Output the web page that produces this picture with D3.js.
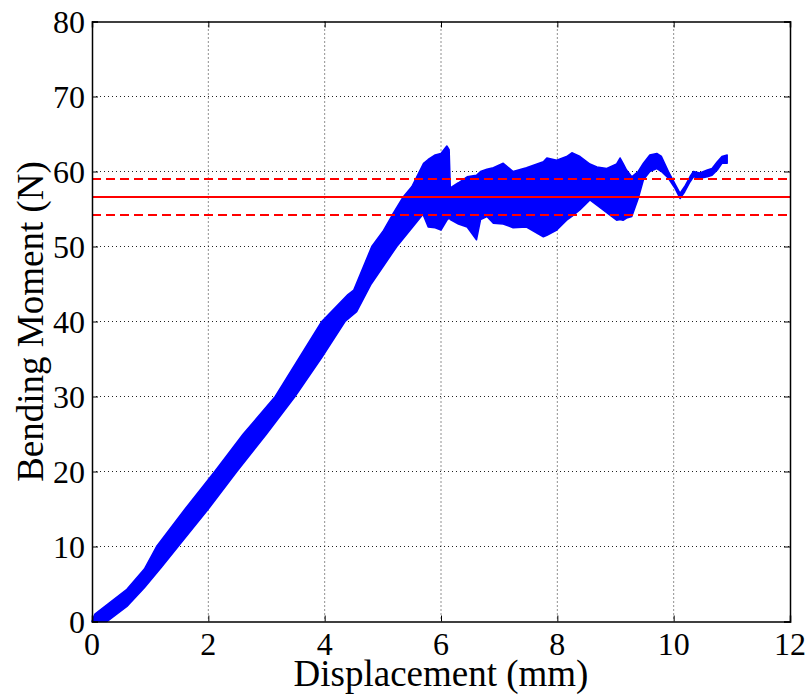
<!DOCTYPE html>
<html>
<head>
<meta charset="utf-8">
<script src="https://cdn.jsdelivr.net/npm/d3@7"></script>
<style>
  body { margin: 0; background: #fff; }
  svg { display: block; }
</style>
</head>
<body>
<div id="chart"></div>
<script>
// upper edge of the noisy measured band: displacement (mm) / moment (N)
const upperDisp = [0, 0.05, 0.3, 0.6, 0.9, 1.11, 1.6, 2.11, 2.6, 3.15, 3.55, 3.95, 4.4, 4.5, 4.81, 5.0, 5.17, 5.35, 5.5, 5.7, 5.78, 5.9, 6.0, 6.1, 6.14, 6.16, 6.3, 6.45, 6.61, 6.68, 6.79, 6.9, 7.07, 7.24, 7.47, 7.76, 7.82, 7.99, 8.16, 8.25, 8.39, 8.56, 8.68, 8.85, 9.02, 9.08, 9.13, 9.19, 9.28, 9.39, 9.48, 9.59, 9.71, 9.79, 9.91, 10.02, 10.11, 10.19, 10.28, 10.34, 10.45, 10.58, 10.66, 10.75, 10.83, 10.92];
const upperVal  = [0, 1.0, 2.5, 4.3, 7.0, 10.0, 15.0, 20.0, 25.0, 30.0, 35.0, 40.0, 43.6, 44.2, 50.0, 52.0, 54.3, 56.6, 58.0, 61.1, 61.6, 62.2, 62.4, 63.4, 62.9, 57.8, 58.5, 59.3, 59.5, 60.0, 60.3, 60.5, 61.1, 60.0, 60.5, 61.3, 61.8, 61.5, 62.0, 62.5, 62.0, 61.0, 60.6, 60.4, 61.0, 61.8, 61.1, 60.2, 59.3, 60.0, 61.1, 62.2, 62.4, 62.0, 60.0, 58.4, 57.1, 58.0, 59.3, 60.0, 59.8, 60.2, 60.4, 61.3, 62.0, 62.2];

// lower edge of the band
const lowerDisp = [0, 0.26, 0.6, 0.9, 1.2, 1.48, 2.0, 2.49, 3.0, 3.49, 3.95, 4.35, 4.55, 4.8, 5.24, 5.45, 5.69, 5.78, 5.9, 6.0, 6.1, 6.14, 6.16, 6.3, 6.45, 6.61, 6.68, 6.79, 6.9, 7.07, 7.24, 7.47, 7.76, 7.82, 7.99, 8.16, 8.25, 8.39, 8.56, 8.68, 8.85, 9.02, 9.08, 9.13, 9.19, 9.28, 9.39, 9.48, 9.59, 9.71, 9.79, 9.91, 10.02, 10.11, 10.19, 10.28, 10.34, 10.45, 10.58, 10.66, 10.75, 10.83, 10.92];
const lowerVal  = [0, 0, 2.0, 4.5, 7.3, 10.0, 15.0, 20.0, 25.0, 30.0, 35.2, 40.0, 41.3, 45.0, 50.0, 52.0, 54.3, 52.6, 52.5, 52.2, 53.5, 53.8, 53.6, 53.0, 52.6, 50.9, 53.6, 54.0, 53.1, 53.0, 52.5, 52.6, 51.3, 51.5, 52.2, 53.5, 54.0, 54.9, 56.2, 55.5, 54.5, 53.5, 53.6, 53.5, 53.8, 54.0, 56.4, 58.9, 60.0, 60.4, 60.0, 59.1, 57.8, 56.4, 57.3, 58.6, 59.3, 59.1, 59.3, 59.5, 60.2, 61.1, 61.1];

// mean and bounds (red lines)
const meanMoment = 56.6;
const boundLow = 54.2;
const boundHigh = 59.0;

const xTicks = [0, 2, 4, 6, 8, 10, 12];
const yTicks = [0, 10, 20, 30, 40, 50, 60, 70, 80];

const width = 809;
const height = 698;
const margin = {top: 21.5, right: 19, bottom: 76.5, left: 92};
const innerWidth = width - margin.left - margin.right;
const innerHeight = height - margin.top - margin.bottom;
const font = "Liberation Serif, Times New Roman, serif";

const svg = d3.select("#chart")
    .append("svg")
    .attr("width", width)
    .attr("height", height);

svg.append("rect")
    .attr("width", width)
    .attr("height", height)
    .attr("fill", "white");

const innerChart = svg.append("g")
    .attr("transform", `translate(${margin.left}, ${margin.top})`);

const xScale = d3.scaleLinear()
    .domain([0, 12])
    .range([0, innerWidth]);

const yScale = d3.scaleLinear()
    .domain([0, 80])
    .range([innerHeight, 0]);

// dotted grid
innerChart.append("g")
    .selectAll("line")
    .data(xTicks.slice(1, -1))
    .join("line")
    .attr("x1", d => xScale(d))
    .attr("x2", d => xScale(d))
    .attr("y1", 0)
    .attr("y2", innerHeight)
    .attr("stroke", "#222")
    .attr("stroke-width", 1)
    .attr("stroke-dasharray", "1,3");

innerChart.append("g")
    .selectAll("line")
    .data(yTicks.slice(1, -1))
    .join("line")
    .attr("x1", 0)
    .attr("x2", innerWidth)
    .attr("y1", d => yScale(d))
    .attr("y2", d => yScale(d))
    .attr("stroke", "#222")
    .attr("stroke-width", 1)
    .attr("stroke-dasharray", "1,3");

// measured band: upper edge forward, lower edge back
const upperPts = upperDisp.map((d, i) => [d, upperVal[i]]);
const lowerPts = lowerDisp.map((d, i) => [d, lowerVal[i]]).reverse();

const lineGenerator = d3.line()
    .x(d => xScale(d[0]))
    .y(d => yScale(d[1]));

innerChart.append("path")
    .attr("d", lineGenerator(upperPts.concat(lowerPts)) + "Z")
    .attr("fill", "#0000ff")
    .attr("stroke", "#0000ff")
    .attr("stroke-width", 1.5)
    .attr("stroke-linejoin", "round");

// mean and bounds
innerChart.append("line")
    .attr("x1", 0)
    .attr("x2", innerWidth)
    .attr("y1", yScale(meanMoment))
    .attr("y2", yScale(meanMoment))
    .attr("stroke", "#ff0000")
    .attr("stroke-width", 2);

[boundLow, boundHigh].forEach(v => {
    innerChart.append("line")
        .attr("x1", 0)
        .attr("x2", innerWidth)
        .attr("y1", yScale(v))
        .attr("y2", yScale(v))
        .attr("stroke", "#ff0000")
        .attr("stroke-width", 2)
        .attr("stroke-dasharray", "9,5");
});

// box with inward ticks on all four sides (labels drawn separately)
innerChart.append("g")
    .attr("transform", `translate(0, ${innerHeight})`)
    .call(d3.axisBottom(xScale).tickValues(xTicks).tickSize(-6).tickFormat(""));

innerChart.append("g")
    .call(d3.axisLeft(yScale).tickValues(yTicks).tickSize(-6).tickFormat(""));

innerChart.append("g")
    .call(d3.axisTop(xScale).tickValues(xTicks).tickSize(-6).tickFormat(""));

innerChart.append("g")
    .attr("transform", `translate(${innerWidth}, 0)`)
    .call(d3.axisRight(yScale).tickValues(yTicks).tickSize(-6).tickFormat(""));

innerChart.selectAll(".domain")
    .attr("stroke", "black")
    .attr("stroke-width", 1.5);

innerChart.selectAll(".tick line")
    .attr("stroke", "black");

innerChart.selectAll(".tick text").remove();

// tick labels
innerChart.append("g")
    .selectAll("text")
    .data(xTicks)
    .join("text")
    .text(d => d)
    .attr("x", d => xScale(d))
    .attr("y", innerHeight + 33)
    .attr("text-anchor", "middle")
    .attr("font-family", font)
    .attr("font-size", 32)
    .attr("fill", "black");

innerChart.append("g")
    .selectAll("text")
    .data(yTicks)
    .join("text")
    .text(d => d)
    .attr("x", -7)
    .attr("y", d => yScale(d) + 11)
    .attr("text-anchor", "end")
    .attr("font-family", font)
    .attr("font-size", 32)
    .attr("fill", "black");

// axis titles
svg.append("text")
    .text("Displacement (mm)")
    .attr("x", margin.left + innerWidth / 2)
    .attr("y", 686)
    .attr("text-anchor", "middle")
    .attr("font-family", font)
    .attr("font-size", 37)
    .attr("fill", "black");

svg.append("text")
    .text("Bending Moment (N)")
    .attr("transform", `translate(43, ${margin.top + innerHeight / 2}) rotate(-90)`)
    .attr("text-anchor", "middle")
    .attr("font-family", font)
    .attr("font-size", 37)
    .attr("fill", "black");
</script>
</body>
</html>
